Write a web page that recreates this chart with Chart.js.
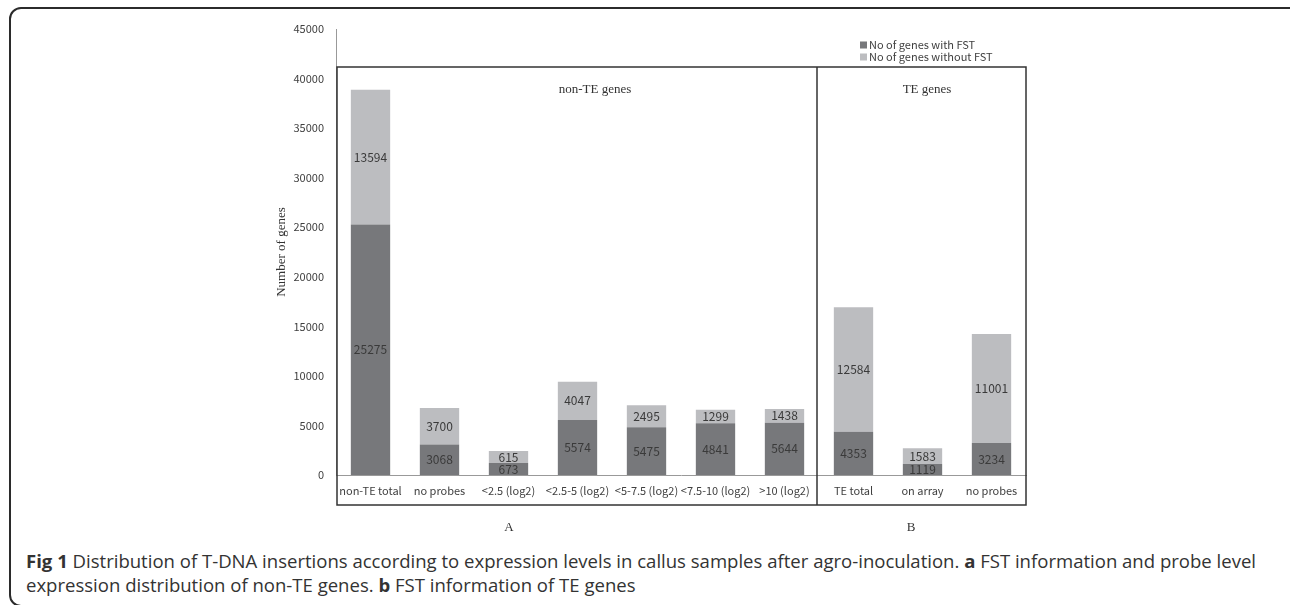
<!DOCTYPE html>
<html>
<head>
<meta charset="utf-8">
<script src="https://cdn.jsdelivr.net/npm/chart.js@4.4.0/dist/chart.umd.min.js"></script>
<style>
  body { margin: 0; background: #fff; width: 1290px; height: 605px; overflow: hidden; position: relative; font-family: "Open Sans", sans-serif; }
  #frame { position: absolute; left: 9px; top: 7px; width: 1300px; height: 600px; border: 2px solid #2b2b2b; border-radius: 12px; box-sizing: border-box; }
  #wrap { position: absolute; left: 0; top: 0; width: 1290px; height: 540px; }
  .cap { position: absolute; left: 26px; font-size: 18px; color: #333; white-space: nowrap; transform-origin: 0 0; line-height: 24px; }
  .cap b { font-weight: 700; }
</style>
</head>
<body>
<div id="frame"></div>
<div id="wrap"><canvas id="fstChart"></canvas></div>
<div class="cap" id="cap1" style="top:549px"><b>Fig 1</b> Distribution of T-DNA insertions according to expression levels in callus samples after agro-inoculation. <b>a</b> FST information and probe level</div>
<div class="cap" id="cap2" style="top:573px">expression distribution of non-TE genes. <b>b</b> FST information of TE genes</div>

<script>
// categorias del eje x
const categories = ['non-TE total', 'no probes', '<2.5 (log2)', '<2.5-5 (log2)', '<5-7.5 (log2)',
    '<7.5-10 (log2)', '>10 (log2)', 'TE total', 'on array', 'no probes'];

// alturas de las barras
const withFST = [25275, 3068, 1210, 5550, 4810, 5210, 5280, 4353, 1119, 3234];
const withoutFST = [13594, 3700, 1210, 3870, 2220, 1380, 1380, 12584, 1583, 11001];

// numeros impresos dentro de las barras (tal como aparecen)
const withFSTText = ['25275', '3068', '673', '5574', '5475', '4841', '5644', '4353', '1119', '3234'];
const withoutFSTText = ['13594', '3700', '615', '4047', '2495', '1299', '1438', '12584', '1583', '11001'];

const yTicks = [0, 5000, 10000, 15000, 20000, 25000, 30000, 35000, 40000, 45000];

const seriesNames = ['No of genes with FST', 'No of genes without FST'];
const darkGrey = '#77787b';
const lightGrey = '#bcbdc0';
const sansFont = '"Noto Sans CJK KR", "Noto Sans", sans-serif';
const serifFont = '"Liberation Serif", "DejaVu Serif", serif';

// etiquetas dentro de las barras
const barLabels = {
    id: 'barLabels',
    afterDatasetsDraw(chart) {
        const ctx = chart.ctx;
        const texts = [withFSTText, withoutFSTText];
        ctx.save();
        ctx.font = '12px ' + sansFont;
        ctx.fillStyle = '#3a3a3a';
        ctx.textAlign = 'center';
        ctx.textBaseline = 'middle';
        chart.data.datasets.forEach((ds, i) => {
            chart.getDatasetMeta(i).data.forEach((bar, j) => {
                ctx.fillText(texts[i][j], bar.x, (bar.y + bar.base) / 2);
            });
        });
        ctx.restore();
    }
};

// recuadros, titulos de grupo y leyenda
const groupBoxes = {
    id: 'groupBoxes',
    afterDraw(chart) {
        const ctx = chart.ctx;
        const area = chart.chartArea;
        const x = chart.scales.x;
        const left = area.left + 1;
        const split = (x.getPixelForValue(6) + x.getPixelForValue(7)) / 2 - 2;
        const right = area.right;
        const top = area.top + 38;
        const bottom = area.bottom + 30;

        ctx.save();
        ctx.strokeStyle = '#333';
        ctx.lineWidth = 1.5;
        ctx.strokeRect(left, top, right - left, bottom - top);
        ctx.beginPath();
        ctx.moveTo(split, top);
        ctx.lineTo(split, bottom);
        ctx.stroke();

        ctx.fillStyle = '#333';
        ctx.font = '13px ' + serifFont;
        ctx.textAlign = 'center';
        ctx.textBaseline = 'middle';
        ctx.fillText('non-TE genes', left + 258, top + 23);
        ctx.fillText('TE genes', split + 110, top + 23);
        ctx.fillText('A', left + 172, bottom + 23);
        ctx.fillText('B', split + 94, bottom + 23);

        // leyenda
        const lx = split + 43;
        const colors = [darkGrey, lightGrey];
        ctx.font = '11px ' + sansFont;
        ctx.textAlign = 'left';
        seriesNames.forEach((name, i) => {
            const ly = area.top + 16 + i * 12;
            ctx.fillStyle = colors[i];
            ctx.fillRect(lx, ly - 3.5, 7, 7);
            ctx.fillStyle = '#404040';
            ctx.fillText(name, lx + 9, ly);
        });
        ctx.restore();
    }
};

document.addEventListener('DOMContentLoaded', () => {
    // ajustar el ancho del pie de figura
    const cap1 = document.getElementById('cap1');
    const cap2 = document.getElementById('cap2');
    const k = 1230 / cap1.getBoundingClientRect().width;
    cap1.style.transform = 'scaleX(' + k + ')';
    cap2.style.transform = 'scaleX(' + k + ')';

    const ctx = document.getElementById('fstChart').getContext('2d');
    new Chart(ctx, {
        type: 'bar',
        data: {
            labels: categories,
            datasets: [{
                label: seriesNames[0],
                data: withFST,
                backgroundColor: darkGrey,
                categoryPercentage: 1,
                barPercentage: 0.57
            }, {
                label: seriesNames[1],
                data: withoutFST,
                backgroundColor: lightGrey,
                categoryPercentage: 1,
                barPercentage: 0.57
            }]
        },
        options: {
            responsive: true,
            maintainAspectRatio: false,
            animation: false,
            layout: { padding: { left: 270, right: 264, top: 29, bottom: 0 } },
            plugins: {
                legend: { display: false },
                tooltip: { enabled: false }
            },
            scales: {
                x: {
                    stacked: true,
                    grid: { display: false, drawTicks: false },
                    border: { display: true, color: '#999', width: 1 },
                    afterFit: (s) => { s.height = 65; },
                    ticks: {
                        padding: 9,
                        autoSkip: false,
                        maxRotation: 0,
                        minRotation: 0,
                        color: '#404040',
                        font: { family: sansFont, size: 11 }
                    }
                },
                y: {
                    stacked: true,
                    min: 0,
                    max: 45000,
                    afterFit: (s) => { s.width = 66; },
                    afterBuildTicks: (s) => { s.ticks = yTicks.map(v => ({ value: v })); },
                    grid: { display: false, drawTicks: false },
                    border: { display: true, color: '#999', width: 1 },
                    title: {
                        display: true,
                        text: 'Number of genes',
                        color: '#333',
                        font: { family: serifFont, size: 13 }
                    },
                    ticks: {
                        padding: 12,
                        color: '#404040',
                        font: { family: sansFont, size: 11 },
                        callback: (v) => String(v)
                    }
                }
            }
        },
        plugins: [barLabels, groupBoxes]
    });
});
</script>
</body>
</html>
